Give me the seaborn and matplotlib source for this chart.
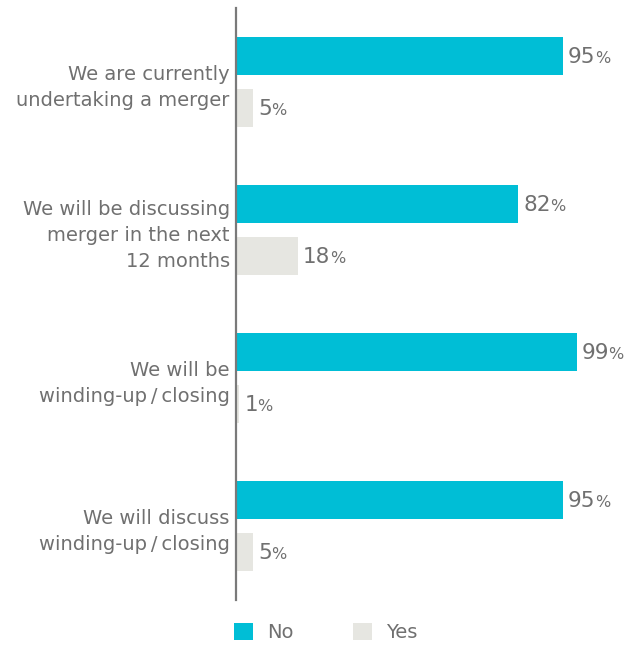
import matplotlib
matplotlib.use("Agg")
import matplotlib.pyplot as plt
import seaborn as sns
import pandas as pd
from matplotlib.patches import Patch

# Survey statements and response shares (%)
categories = [
    "We are currently\nundertaking a merger",
    "We will be discussing\nmerger in the next\n12 months",
    "We will be\nwinding-up\u2009/\u2009closing",
    "We will discuss\nwinding-up\u2009/\u2009closing",
]
no_values = [95, 82, 99, 95]
yes_values = [5, 18, 1, 5]
responses = ["No", "Yes"]

colors = {"No": "#00bed6", "Yes": "#e6e6e1"}
text_color = "#707070"

sns.set_style("white")
plt.rcParams["font.family"] = ["DejaVu Sans"]

df = pd.DataFrame({
    "category": categories * 2,
    "response": ["No"] * len(categories) + ["Yes"] * len(categories),
    "value": no_values + yes_values,
})

W, H = 628, 646
fig = plt.figure(figsize=(W / 100, H / 100), dpi=100)
ax = fig.add_axes([236 / W, 46 / H, 344 / W, 592 / H])

sns.barplot(
    data=df, x="value", y="category", hue="response",
    order=categories, hue_order=responses, palette=colors,
    orient="h", width=0.703, gap=0.288, saturation=1,
    linewidth=0, legend=False, errorbar=None, ax=ax,
)

ax.set_xlim(0, 100)
ax.set_ylim(3.5, -0.5)
ax.set_xlabel("")
ax.set_ylabel("")
ax.set_xticks([])
for side in ("top", "right", "bottom"):
    ax.spines[side].set_visible(False)
ax.spines["left"].set_color("#7a7a7a")
ax.spines["left"].set_linewidth(1.6)
ax.tick_params(axis="y", length=0, pad=4.5, labelsize=14, labelcolor=text_color)
for lbl in ax.get_yticklabels():
    lbl.set_multialignment("right")
    lbl.set_linespacing(1.48)

# Value labels: number followed by a slightly smaller percent sign
fig.canvas.draw()
renderer = fig.canvas.get_renderer()
for container, vals in zip(ax.containers, [no_values, yes_values]):
    for bar, v in zip(container, vals):
        yc = bar.get_y() + bar.get_height() / 2
        px, py = ax.transData.transform((v, yc))
        base = py - 7
        t = fig.text(px + 5, base, f"{v}", ha="left", va="baseline",
                     fontsize=15.5, color=text_color, transform=None)
        bb = t.get_window_extent(renderer)
        fig.text(bb.x1 - 0.5, base, "%", ha="left", va="baseline",
                 fontsize=11.5, color=text_color, transform=None)

handles = [Patch(facecolor=colors[r], edgecolor="none", label=r) for r in responses]
fig.legend(
    handles=handles, loc="upper left", bbox_to_anchor=(234 / W, 1 - 623 / H),
    ncol=2, frameon=False, fontsize=14, labelcolor=text_color,
    handlelength=1.0, handleheight=1.0, handletextpad=0.7,
    columnspacing=3.05, borderpad=0, borderaxespad=0,
)

fig.savefig("out.png", dpi=100)
